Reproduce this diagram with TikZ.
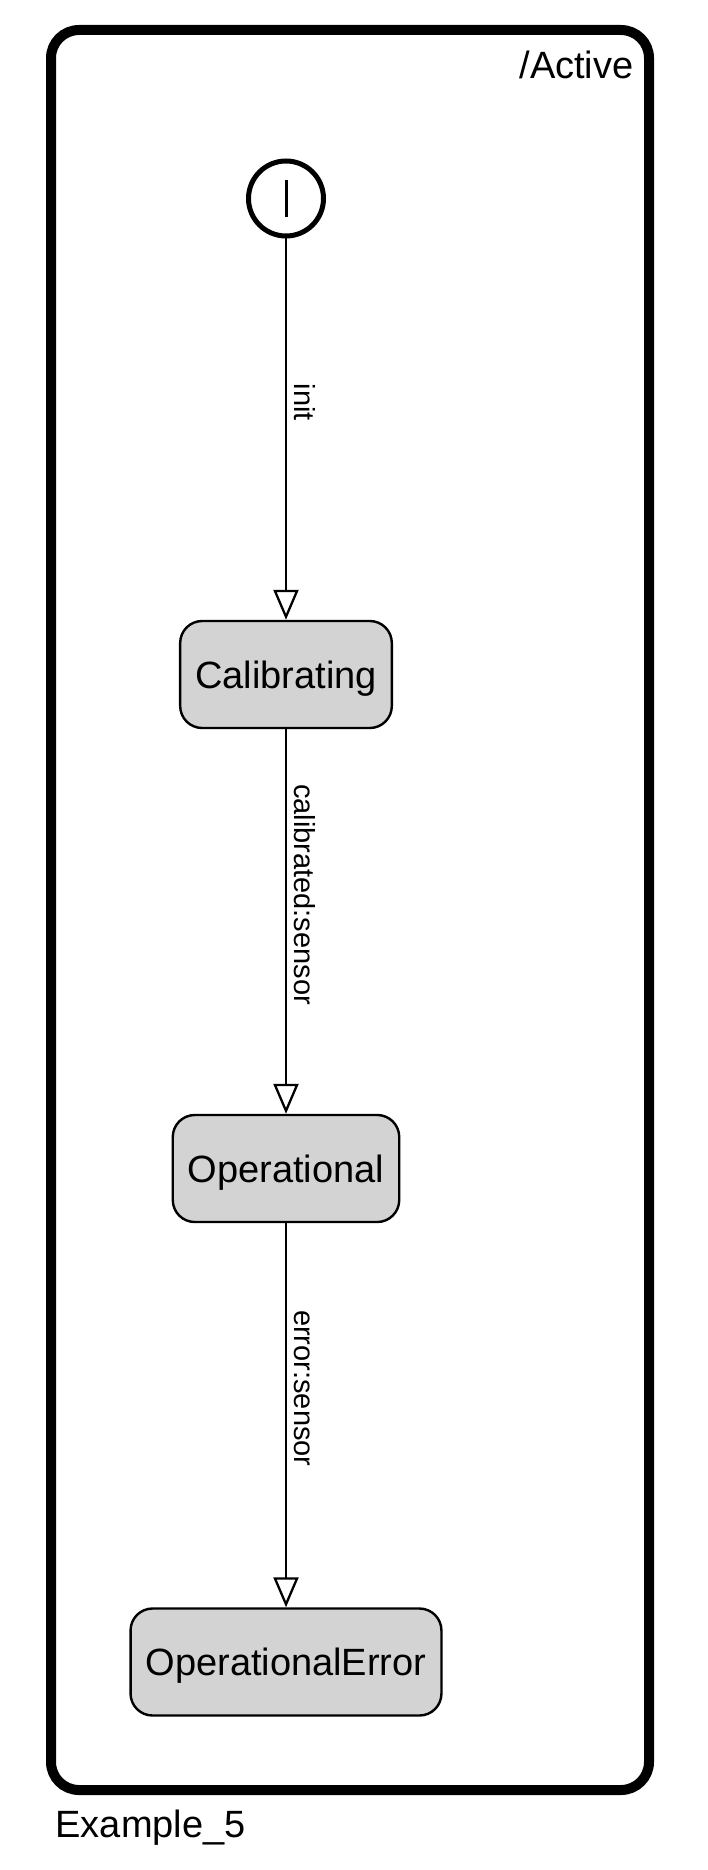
\documentclass[tikz,border=0pt]{standalone}
\usepackage{fontspec}
\setmainfont{Liberation Sans}
\usetikzlibrary{arrows.meta}
\definecolor{stategray}{RGB}{211,211,211}

\begin{document}
\begin{tikzpicture}[x=1pt, y=-1pt,
  >={Triangle[open, length=30pt, width=25pt]},
  state/.style={draw, line width=2.4pt, fill=stategray, rounded corners=22pt,
    minimum height=107pt, inner xsep=15pt, text height=27pt, text depth=0pt,
    font=\fontsize{38}{44}\selectfont},
  trans/.style={->, line width=2.3pt},
  translabel/.style={rotate=-90, anchor=south, inner sep=7pt,
    font=\fontsize{29}{34}\selectfont}]

\useasboundingbox (0,0) rectangle (708,1870);

% Composite state
\draw[line width=10pt, rounded corners=28pt] (51,30) rectangle (649,1790);
\node[anchor=base east, font=\fontsize{38}{44}\selectfont] (active) at (637,79) {/Active};

% Initial pseudostate
\node[circle, draw, line width=5pt, minimum size=75pt, inner sep=0pt] (init) at (286,198.5) {};
\draw[line width=3pt] ([yshift=18.5pt]init.center) -- ([yshift=-18.5pt]init.center);

% States
\node[state] (cal) at (286,674.5) {Calibrating};
\node[state] (op) at (286,1168.5) {Operational};
\node[state] (operr) at (286,1662) {OperationalError};

% Transitions
\draw[trans] (init) -- node[translabel, pos=0.43] {init} (cal);
\draw[trans] (cal) -- node[translabel, pos=0.43] {calibrated:sensor} (op);
\draw[trans] (op) -- node[translabel, pos=0.43] {error:sensor} (operr);

\node[anchor=base west, font=\fontsize{38}{44}\selectfont] (title) at (52,1837) {Example\_5};

\end{tikzpicture}
\end{document}
